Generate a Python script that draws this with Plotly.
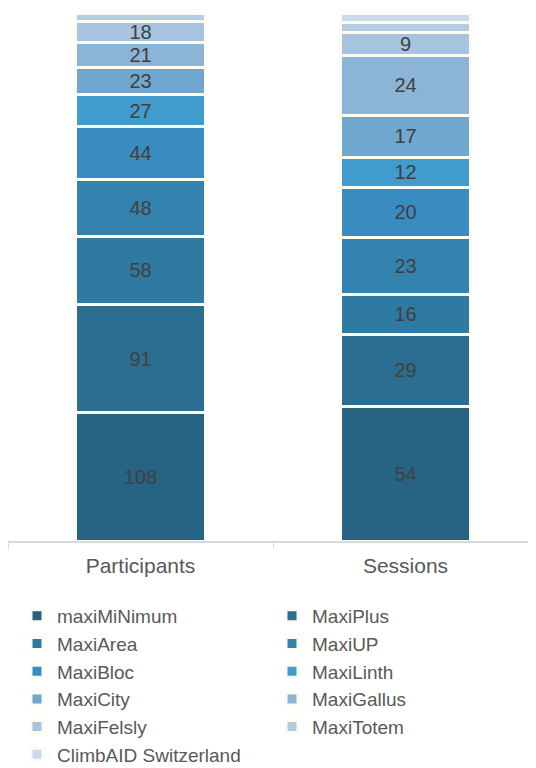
import plotly.graph_objects as go

categories = ["Participants", "Sessions"]
series_names = ["maxiMiNimum", "MaxiPlus", "MaxiArea", "MaxiUP", "MaxiBloc", "MaxiLinth",
                "MaxiCity", "MaxiGallus", "MaxiFelsly", "MaxiTotem", "ClimbAID Switzerland"]
participants = [108, 91, 58, 48, 44, 27, 23, 21, 18, 7, 0]
sessions = [54, 29, 16, 23, 20, 12, 17, 24, 9, 4, 4]
colors = ["#276382", "#2b6e91", "#2f7aa3", "#3482ae", "#3a8cc0", "#419bcd",
          "#6fa7ce", "#8cb4d6", "#a6c4df", "#b3cce3", "#c8daeb"]

FONT = "Liberation Sans, Arial"

fig = go.Figure()
for i, name in enumerate(series_names):
    vals = [participants[i], sessions[i]]
    fig.add_trace(go.Bar(
        x=categories, y=vals, name=name,
        marker=dict(color=colors[i], line=dict(color="#fcfcf0", width=3)),
        text=[str(v) if v >= 9 else "" for v in vals],
        textposition="inside", insidetextanchor="middle", textangle=0,
        textfont=dict(color="#404040", size=20, family=FONT),
        hoverinfo="skip",
    ))

fig.update_layout(
    width=536, height=768,
    barmode="stack", barnorm="percent", bargap=0.51,
    plot_bgcolor="white", paper_bgcolor="white",
    margin=dict(l=0, r=6, t=4.5, b=235, autoexpand=False),
    font=dict(family=FONT, size=20, color="#595959"),
    uniformtext=dict(minsize=20, mode="show"),
    showlegend=True,
    legend=dict(orientation="h", x=0.017, xanchor="left", y=-0.106, yanchor="top",
                entrywidth=210, traceorder="normal", itemclick=False,
                font=dict(size=19, color="#595959", family=FONT), tracegroupgap=0),
)
fig.update_xaxes(showline=True, linecolor="#d9d9d9", linewidth=1.5, ticks="outside",
                 tickson="boundaries", ticklen=6, tickcolor="#d9d9d9",
                 ticklabelstandoff=5,
                 tickfont=dict(size=21, color="#595959", family=FONT))
fig.update_yaxes(visible=False, range=[0, 100])

fig.write_html("out.html")
